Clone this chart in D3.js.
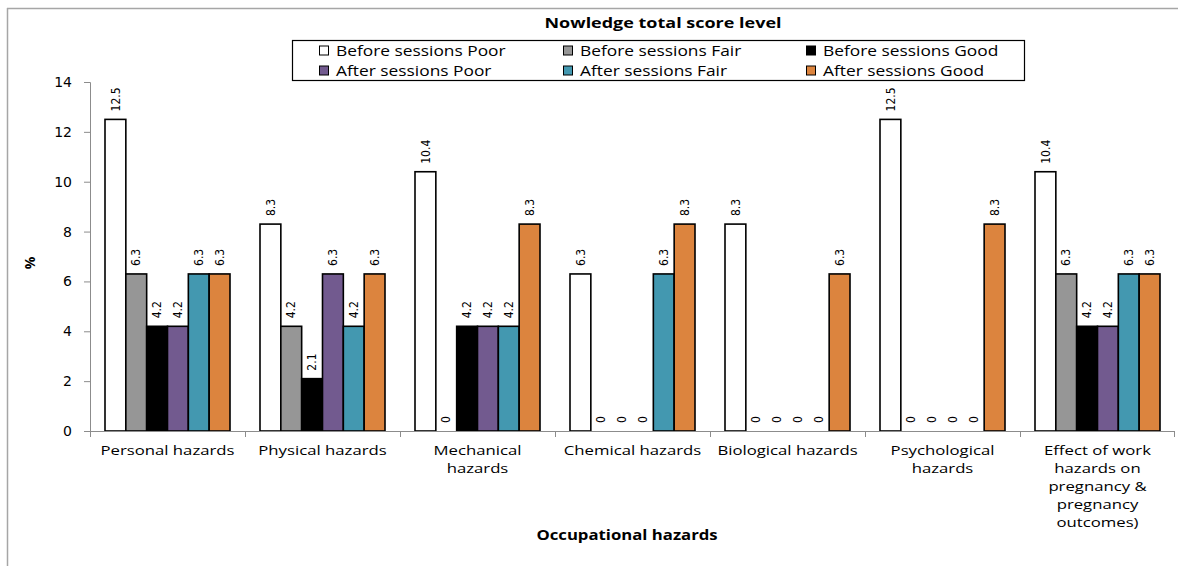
<!DOCTYPE html>
<html>
<head>
<meta charset="utf-8">
<script src="https://cdn.jsdelivr.net/npm/d3@7/dist/d3.min.js"></script>
<style>
  html, body { margin: 0; padding: 0; background: #fff; }
  svg { display: block; }
</style>
</head>
<body>
<svg id="chart" width="1178" height="575"></svg>
<script>
// Occupational hazard categories (x axis)
const categories = [
  ["Personal hazards"],
  ["Physical hazards"],
  ["Mechanical", "hazards"],
  ["Chemical hazards"],
  ["Biological hazards"],
  ["Psychological", "hazards"],
  ["Effect of work", "hazards on", "pregnancy &", "pregnancy", "outcomes)"]
];

// Series names and colours
const seriesNames = [
  "Before sessions Poor", "Before sessions Fair", "Before sessions Good",
  "After sessions Poor", "After sessions Fair", "After sessions Good"
];
const seriesColors = ["#ffffff", "#969696", "#000000", "#725a8f", "#4398b0", "#dc843e"];

// Percentages per series, one value per category
const beforePoor = [12.5, 8.3, 10.4, 6.3, 8.3, 12.5, 10.4];
const beforeFair = [6.3, 4.2, 0, 0, 0, 0, 6.3];
const beforeGood = [4.2, 2.1, 4.2, 0, 0, 0, 4.2];
const afterPoor  = [4.2, 6.3, 4.2, 0, 0, 0, 4.2];
const afterFair  = [6.3, 4.2, 4.2, 6.3, 0, 0, 6.3];
const afterGood  = [6.3, 6.3, 8.3, 8.3, 6.3, 8.3, 6.3];
const seriesValues = [beforePoor, beforeFair, beforeGood, afterPoor, afterFair, afterGood];

const yTicks = [0, 2, 4, 6, 8, 10, 12, 14];

const svg = d3.select("#chart");
const W = 1178, H = 575;
const plot = { left: 90, right: 1175, top: 82, bottom: 431 };
const textFont = "'Open Sans', 'Liberation Sans', sans-serif";
const stretch = 1.24; // wide lettering of the chart text

// text placed at (x, y) and widened horizontally
function wideText(parent, x, y, size, bold, anchor) {
  return parent.append("text")
    .attr("transform", `translate(${x},${y}) scale(${stretch},1)`)
    .attr("text-anchor", anchor || "middle")
    .attr("font-family", textFont)
    .attr("font-size", size)
    .attr("font-weight", bold ? "bold" : "normal")
    .attr("fill", "#000");
}

// outer chart frame
svg.append("line").attr("x1", 7).attr("x2", W).attr("y1", 8.5).attr("y2", 8.5)
  .attr("stroke", "#a6a6a6").attr("stroke-width", 1.5);
svg.append("line").attr("x1", 7.5).attr("x2", 7.5).attr("y1", 8).attr("y2", 566)
  .attr("stroke", "#a6a6a6").attr("stroke-width", 1.5);

const x0 = d3.scaleBand()
  .domain(d3.range(categories.length))
  .range([plot.left, plot.right])
  .paddingInner(0).paddingOuter(0);

const groupPad = 15;
const x1 = d3.scaleBand()
  .domain(d3.range(seriesNames.length))
  .range([groupPad, x0.bandwidth() - groupPad]);

const y = d3.scaleLinear().domain([0, 14]).range([plot.bottom, plot.top]);

// bars
const rows = [];
categories.forEach((c, ci) => {
  seriesValues.forEach((vals, si) => rows.push({ ci, si, v: vals[ci] }));
});

svg.append("g").selectAll("rect")
  .data(rows.filter(d => d.v > 0))
  .join("rect")
  .attr("x", d => x0(d.ci) + x1(d.si))
  .attr("y", d => y(d.v))
  .attr("width", x1.bandwidth())
  .attr("height", d => y(0) - y(d.v))
  .attr("fill", d => seriesColors[d.si])
  .attr("stroke", "#000")
  .attr("stroke-width", 1.6);

// value labels, rotated
const labelFont = "'Liberation Sans Narrow', 'DejaVu Sans Condensed', sans-serif";
svg.append("g").selectAll("text")
  .data(rows)
  .join("text")
  .attr("transform", d => {
    const cx = x0(d.ci) + x1(d.si) + x1.bandwidth() / 2;
    return `translate(${cx},${y(d.v) - 8}) rotate(-90)`;
  })
  .attr("dy", "0.35em")
  .attr("text-anchor", "start")
  .attr("font-family", labelFont)
  .attr("font-size", 12)
  .attr("fill", "#000")
  .text(d => d.v);

// y axis
const yAxis = d3.axisLeft(y).tickValues(yTicks).tickSize(6).tickPadding(12).tickFormat(d3.format("d"));
const gy = svg.append("g").attr("transform", `translate(${plot.left},0)`).call(yAxis);
gy.select(".domain").attr("stroke", "#8c8c8c");
gy.selectAll(".tick line").attr("stroke", "#8c8c8c");
gy.selectAll(".tick text").attr("font-family", "'DejaVu Sans', Verdana, sans-serif")
  .attr("font-size", 14).attr("fill", "#000");

// x axis: baseline with ticks at category boundaries
const gx = svg.append("g");
gx.append("line").attr("x1", plot.left).attr("x2", plot.right)
  .attr("y1", plot.bottom + 0.5).attr("y2", plot.bottom + 0.5).attr("stroke", "#8c8c8c");
gx.selectAll("line.tick")
  .data(d3.range(categories.length + 1))
  .join("line").attr("class", "tick")
  .attr("x1", i => i < categories.length ? x0(i) + 0.5 : plot.right - 0.5)
  .attr("x2", i => i < categories.length ? x0(i) + 0.5 : plot.right - 0.5)
  .attr("y1", plot.bottom).attr("y2", plot.bottom + 6)
  .attr("stroke", "#8c8c8c");

categories.forEach((lines, i) => {
  const t = wideText(gx, x0(i) + x0.bandwidth() / 2, 455, 13.5, false);
  t.selectAll("tspan")
    .data(lines)
    .join("tspan")
    .attr("x", 0)
    .attr("dy", (d, k) => k === 0 ? 0 : 18)
    .text(d => d);
});

// axis titles
wideText(svg, 627, 540, 13.5, true).text("Occupational hazards");
svg.append("text").attr("transform", "translate(30,263) rotate(-90)")
  .attr("text-anchor", "middle").attr("dy", "0.35em")
  .attr("font-family", textFont).attr("font-weight", "bold").attr("font-size", 14)
  .text("%");

// legend title and box
wideText(svg, 663, 28, 14.5, true).text("Nowledge total score level");

const legend = svg.append("g");
legend.append("rect").attr("x", 292.5).attr("y", 40.5).attr("width", 732).attr("height", 40)
  .attr("fill", "#fff").attr("stroke", "#000").attr("stroke-width", 1.2);
const colX = [319, 563, 806];
const rowY = [50.5, 70.5];
seriesNames.forEach((name, i) => {
  const cx = colX[i % 3], cy = rowY[Math.floor(i / 3)];
  legend.append("rect").attr("x", cx + 0.5).attr("y", cy - 4.5).attr("width", 9).attr("height", 9)
    .attr("fill", seriesColors[i]).attr("stroke", "#000").attr("stroke-width", 1);
  wideText(legend, cx + 17, cy + 5, 14, false, "start").text(name);
});
</script>
</body>
</html>
